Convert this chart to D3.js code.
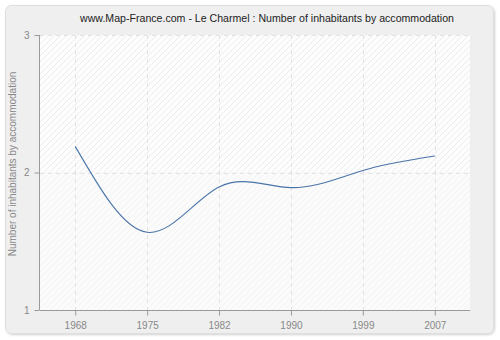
<!DOCTYPE html>
<html><head><meta charset="utf-8">
<script src="https://cdn.jsdelivr.net/npm/d3@7"></script>
<style>body{margin:0;background:#fff}svg{display:block}</style>
</head><body>
<svg id="c" width="500" height="340"></svg>
<script>
const years = ["1968","1975","1982","1990","1999","2007"];
const values = [2.19, 1.565, 1.895, 1.89, 2.015, 2.12];
const yTicks = [1, 2, 3];
const title = "www.Map-France.com - Le Charmel : Number of inhabitants by accommodation";
const yLabel = "Number of inhabitants by accommodation";

const svg = d3.select("#c");
const font = "'Liberation Sans', Arial, sans-serif";
const L = 40, R = 470, T = 35, B = 310;

const defs = svg.append("defs");
const f = defs.append("filter").attr("id","sh").attr("x","-5%").attr("y","-5%").attr("width","110%").attr("height","110%");
f.append("feDropShadow").attr("dx",1).attr("dy",1).attr("stdDeviation",1.2).attr("flood-color","#000").attr("flood-opacity",0.18);
const p1 = defs.append("pattern").attr("id","h1").attr("patternUnits","userSpaceOnUse").attr("width",6).attr("height",6);
p1.append("rect").attr("width",6).attr("height",6).attr("fill","#fdfdfd");
p1.append("path").attr("d","M-1,7 L7,-1 M-4,4 L4,-4 M2,10 L10,2").attr("stroke","#ececec").attr("stroke-width",1);
const p2 = defs.append("pattern").attr("id","h2").attr("patternUnits","userSpaceOnUse").attr("width",6).attr("height",6);
p2.append("rect").attr("width",6).attr("height",6).attr("fill","#fbfbfb");
p2.append("path").attr("d","M-1,7 L7,-1 M-4,4 L4,-4 M2,10 L10,2").attr("stroke","#f3f3f3").attr("stroke-width",1);

svg.append("rect").attr("x",5.5).attr("y",5.5).attr("width",488).attr("height",328).attr("rx",6)
  .attr("fill","#efefef").attr("stroke","#dedede").attr("filter","url(#sh)");

const x = d3.scalePoint().domain(years).range([L, R]).padding(0.49);
const y = d3.scaleLinear().domain([1,3]).range([B, T]);

svg.append("rect").attr("x",L).attr("y",T).attr("width",R-L).attr("height",y(2)-T).attr("fill","url(#h1)");
svg.append("rect").attr("x",L).attr("y",y(2)).attr("width",R-L).attr("height",B-y(2)).attr("fill","url(#h2)");

const g = svg.append("g");
g.selectAll(".vg").data(years).join("line")
  .attr("x1",d=>Math.round(x(d))+0.5).attr("x2",d=>Math.round(x(d))+0.5)
  .attr("y1",T).attr("y2",B).attr("stroke","#e2e2e2").attr("stroke-dasharray","4,4");
g.selectAll(".hg").data(yTicks.filter(v=>v>1)).join("line")
  .attr("x1",L).attr("x2",R).attr("y1",d=>Math.round(y(d))+0.5).attr("y2",d=>Math.round(y(d))+0.5)
  .attr("stroke","#e2e2e2").attr("stroke-dasharray","4,4");

const line = d3.line().x((d,i)=>x(years[i])).y(d=>y(d)).curve(d3.curveNatural);
svg.append("path").datum(values).attr("d",line).attr("fill","none").attr("stroke","#4a74a8").attr("stroke-width",1.1);

const xa = svg.append("g").attr("transform",`translate(0,${B+0.5})`)
  .call(d3.axisBottom(x).tickSize(5).tickPadding(6).tickSizeOuter(0));
const ya = svg.append("g").attr("transform",`translate(${L-0.5},0)`)
  .call(d3.axisLeft(y).tickValues(yTicks).tickFormat(d3.format("d")).tickSize(5).tickPadding(5).tickSizeOuter(0));
[xa,ya].forEach(a=>{
  a.select(".domain").attr("stroke","#999");
  a.selectAll(".tick line").attr("stroke","#999");
  a.selectAll("text").attr("fill","#888").style("font-family",font).style("font-size","10px");
});
xa.select(".domain").attr("d",`M${L},0H${R}`);
ya.select(".domain").attr("d",`M0,${T}V${B}`);

svg.append("text").attr("x",267).attr("y",22).attr("text-anchor","middle")
  .style("font-family",font).style("font-size","10.6px").attr("fill","#222").text(title);
svg.append("text").attr("transform",`translate(16,164) rotate(-90)`).attr("text-anchor","middle")
  .style("font-family",font).style("font-size","10px").attr("fill","#888").text(yLabel);
</script>
</body></html>
